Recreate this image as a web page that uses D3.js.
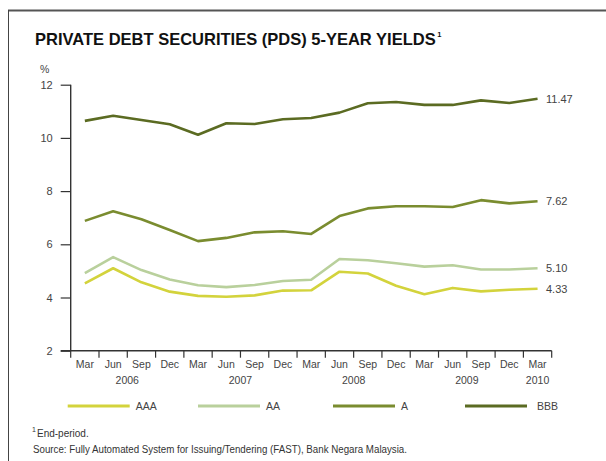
<!DOCTYPE html>
<html><head><meta charset="utf-8">
<script src="https://cdn.jsdelivr.net/npm/d3@7"></script>
<style>body{margin:0;background:#fff}svg{display:block}</style>
</head><body>
<script>
const quarters = ["Mar","Jun","Sep","Dec","Mar","Jun","Sep","Dec","Mar","Jun","Sep","Dec","Mar","Jun","Sep","Dec","Mar"];
const years = [{label:"2006", at:2},{label:"2007", at:6},{label:"2008", at:10},{label:"2009", at:14},{label:"2010", at:16.5}];
const yTicks = [2,4,6,8,10,12];
const AAA = [4.53,5.10,4.57,4.22,4.06,4.03,4.08,4.26,4.27,4.97,4.90,4.44,4.12,4.36,4.23,4.29,4.33];
const AA  = [4.92,5.52,5.03,4.68,4.46,4.39,4.47,4.62,4.67,5.45,5.40,5.29,5.16,5.21,5.05,5.05,5.10];
const A   = [6.88,7.24,6.94,6.54,6.12,6.24,6.45,6.49,6.39,7.06,7.35,7.43,7.43,7.40,7.66,7.54,7.62];
const BBB = [10.64,10.83,10.67,10.51,10.12,10.55,10.52,10.70,10.75,10.95,11.30,11.35,11.24,11.24,11.41,11.31,11.47];
const seriesNames = ["AAA","AA","A","BBB"];
const endLabels = ["4.33","5.10","7.62","11.47"];
const colors = ["#d3d33c","#b9d09c","#7a8c2f","#5b6b22"];

const W=606,H=461;
const svg=d3.select("body").append("svg").attr("width",W).attr("height",H);
const font="'Liberation Sans', Arial, sans-serif";

// frame
svg.append("line").attr("x1",8).attr("x2",W).attr("y1",10.5).attr("y2",10.5).attr("stroke","#555").attr("stroke-width",2);
svg.append("line").attr("x1",8.5).attr("x2",8.5).attr("y1",10).attr("y2",H).attr("stroke","#444").attr("stroke-width",1);

// title
const title=svg.append("text").attr("x",35).attr("y",45).attr("font-family",font).attr("font-weight","bold")
  .attr("font-size",16.5).attr("fill","#111")
  .text("PRIVATE DEBT SECURITIES (PDS) 5-YEAR YIELDS");
const tw=title.node().getComputedTextLength();
svg.append("text").attr("x",35+tw+1.5).attr("y",37).attr("font-family",font).attr("font-weight","bold")
  .attr("font-size",7.5).attr("fill","#111").text("1");

svg.append("text").attr("x",40).attr("y",73).attr("font-family",font).attr("font-size",10.5).attr("fill","#444").text("%");

const x=d3.scaleBand().domain(d3.range(quarters.length)).range([70.7,551.7]);
const y=d3.scaleLinear().domain([2,12]).range([350.7,84.7]);

// y axis
const ya=svg.append("g").attr("transform","translate(70.7,0)").call(d3.axisLeft(y).tickValues(yTicks).tickSize(10).tickPadding(8));
ya.select(".domain").attr("stroke","#333").attr("stroke-width",1.4).attr("d","M0,84.7V350.7");
ya.selectAll(".tick line").attr("stroke","#333").attr("stroke-width",1.2);
ya.selectAll("text").attr("font-family",font).attr("font-size",11).attr("fill","#444");

// x axis
const xa=svg.append("g").attr("transform","translate(0,350.7)");
xa.append("line").attr("x1",60.7).attr("x2",551.7).attr("y1",0).attr("y2",0).attr("stroke","#333").attr("stroke-width",1.4);
const tickPos=d3.range(quarters.length+1).map(i=>x.range()[0]+i*x.step());
xa.selectAll("line.t").data(tickPos).join("line").attr("class","t").attr("x1",d=>d).attr("x2",d=>d)
  .attr("y1",0).attr("y2",7).attr("stroke","#333").attr("stroke-width",1.2);
xa.selectAll("text.q").data(quarters).join("text").attr("class","q")
  .attr("x",(d,i)=>x(i)+x.bandwidth()/2).attr("y",17).attr("text-anchor","middle")
  .attr("font-family",font).attr("font-size",10.5).attr("fill","#444").text(d=>d);
xa.selectAll("text.yr").data(years).join("text").attr("class","yr")
  .attr("x",d=>x.range()[0]+d.at*x.step()).attr("y",33).attr("text-anchor","middle")
  .attr("font-family",font).attr("font-size",10.5).attr("fill","#444").text(d=>d.label);

// lines
const data=[AAA,AA,A,BBB];
const line=d3.line().x((d,i)=>x(i)+x.bandwidth()/2).y(d=>y(d));
svg.selectAll("path.s").data(data).join("path").attr("class","s").attr("d",line)
  .attr("fill","none").attr("stroke",(d,i)=>colors[i]).attr("stroke-width",2.6).attr("stroke-linejoin","round");
svg.selectAll("text.end").data(data).join("text").attr("class","end")
  .attr("x",546).attr("y",d=>y(d[d.length-1])).attr("dy","0.35em")
  .attr("font-family",font).attr("font-size",11).attr("fill","#444").text((d,i)=>endLabels[i]);

// legend
const legX=[67.7,198,333,465];
const lg=svg.selectAll("g.lg").data(seriesNames).join("g").attr("class","lg").attr("transform",(d,i)=>`translate(${legX[i]},406)`);
lg.append("line").attr("x1",0).attr("x2",62).attr("stroke",(d,i)=>colors[i]).attr("stroke-width",2.8);
lg.append("text").attr("x",(d,i)=>i==3?72:68).attr("y",0).attr("dy","0.35em").attr("font-family",font).attr("font-size",10.5).attr("fill","#444").text(d=>d);

// footnotes
svg.append("text").attr("x",32).attr("y",432).attr("font-family",font).attr("font-size",7).attr("fill","#333").text("1");
svg.append("text").attr("x",37).attr("y",437).attr("font-family",font).attr("font-size",10).attr("fill","#333").text("End-period.");
svg.append("text").attr("x",33).attr("y",453).attr("font-family",font).attr("font-size",10).attr("fill","#333")
  .attr("textLength",374).attr("lengthAdjust","spacingAndGlyphs")
  .text("Source: Fully Automated System for Issuing/Tendering (FAST), Bank Negara Malaysia.");
</script>
</body></html>
